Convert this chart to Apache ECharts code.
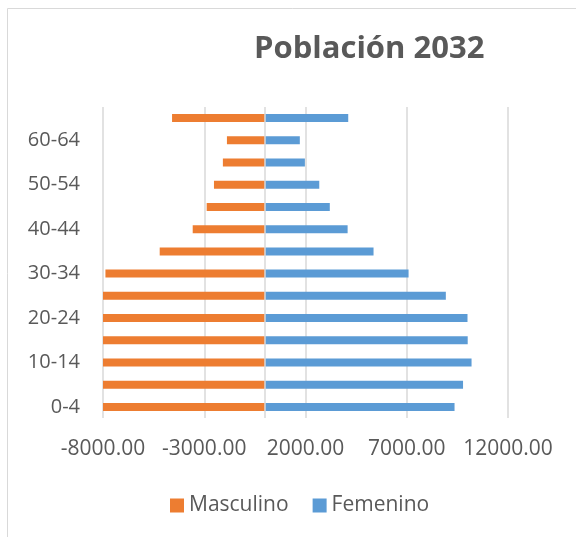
<!DOCTYPE html>
<html>
<head>
    <meta charset="utf-8" />
    <title>Población 2032</title>
    <style type="text/css">
        html,body{margin:0;padding:0;background:#fff;}
        #pyramid{width:576px;height:537px;}
    </style>
</head>
<body>
<div id="pyramid"></div>
<script src="https://cdn.jsdelivr.net/npm/echarts@6/dist/echarts.min.js"></script>
<script>
    // grupos de edad (de abajo hacia arriba)
    var grupos = ['0-4','5-9','10-14','15-19','20-24','25-29','30-34','35-39','40-44','45-49','50-54','55-59','60-64','65+'];
    // hombres en negativo para que queden a la izquierda
    var masculino = [-8000,-8000,-8000,-8000,-8000,-8000,-7880,-5200,-3570,-2880,-2520,-2080,-1880,-4590];
    var femenino = [9360,9780,10200,10010,10000,8930,7090,5360,4080,3200,2680,1970,1720,4110];
    var ticksX = {min: -8000, max: 12000, paso: 5000};

    var gris = '#595959';
    var fuente = '"Open Sans", sans-serif';

    var chart = echarts.init(document.getElementById('pyramid'));
    chart.setOption({
        color: ['#ED7D31', '#5B9BD5'],
        animation: false,
        graphic: [{
            type: 'rect',
            z: -10,
            shape: {x: 7.5, y: 8.5, width: 800, height: 800},
            style: {fill: 'none', stroke: '#d9d9d9', lineWidth: 1}
        }],
        title: {
            text: 'Población 2032',
            left: 249,
            top: 29,
            textStyle: {
                fontFamily: fuente,
                fontSize: 31,
                fontWeight: 'bold',
                color: gris
            }
        },
        legend: {
            data: ['Masculino', 'Femenino'],
            left: 165,
            top: 490,
            itemWidth: 14,
            itemHeight: 14,
            itemGap: 24,
            icon: 'rect',
            textStyle: {fontFamily: fuente, fontSize: 21, color: gris}
        },
        grid: {left: 103, right: 68, top: 107, bottom: 119},
        xAxis: {
            type: 'value',
            min: ticksX.min,
            max: ticksX.max,
            interval: ticksX.paso,
            axisLine: {show: false},
            axisTick: {show: false},
            splitLine: {lineStyle: {color: '#d9d9d9', width: 1.5}},
            axisLabel: {
                margin: 21,
                fontFamily: fuente,
                fontSize: 21,
                color: gris,
                formatter: function (v) { return v.toFixed(2); }
            }
        },
        yAxis: {
            type: 'category',
            data: grupos,
            axisLine: {show: false},
            axisTick: {show: false},
            axisLabel: {
                interval: 1,
                margin: 23,
                fontFamily: fuente,
                fontSize: 20,
                color: gris
            }
        },
        series: [
            {
                name: 'Masculino',
                type: 'bar',
                data: masculino,
                barWidth: 8,
                barGap: '-100%'
            },
            {
                name: 'Femenino',
                type: 'bar',
                data: femenino,
                barWidth: 8,
                markLine: {
                    silent: true,
                    symbol: 'none',
                    label: {show: false},
                    lineStyle: {color: '#d9d9d9', width: 1.5, type: 'solid'},
                    data: [{xAxis: 0}]
                }
            }
        ]
    });
</script>
</body>
</html>
